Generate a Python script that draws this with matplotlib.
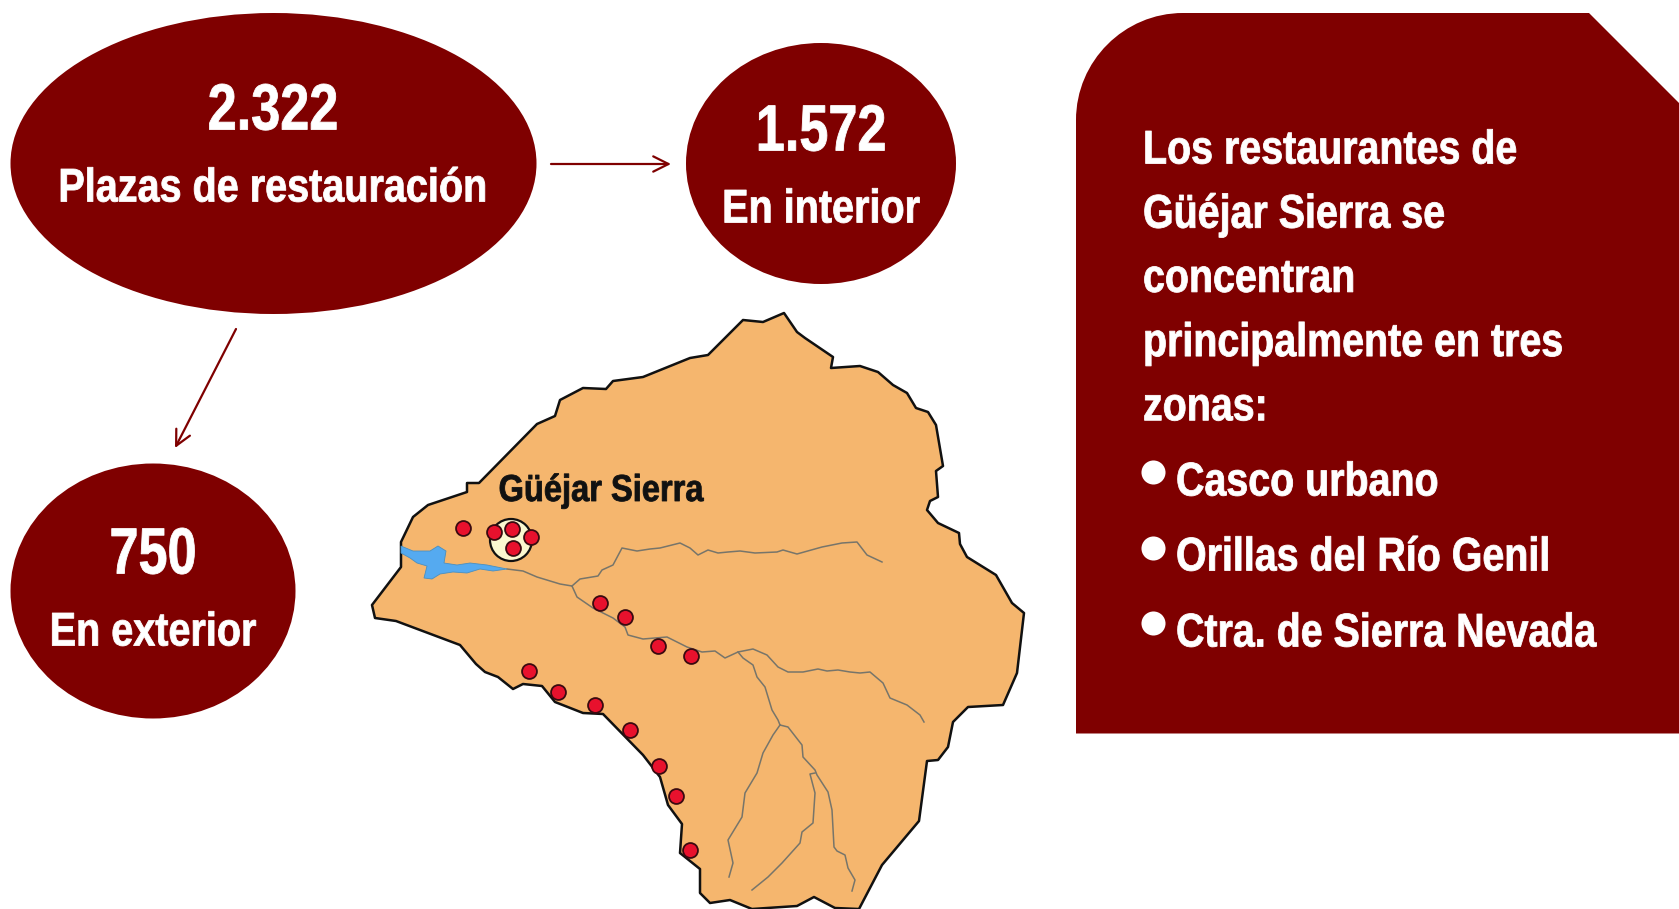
import matplotlib
matplotlib.use("Agg")
import matplotlib.pyplot as plt
from matplotlib.patches import Ellipse, Polygon, Circle, PathPatch
from matplotlib.path import Path
from matplotlib.patheffects import AbstractPathEffect
from matplotlib.transforms import Affine2D

plt.rcParams['font.family'] = ['Liberation Sans']
plt.rcParams['font.weight'] = 'bold'

RED = '#7f0000'
SAND = '#f5b66e'

# bubbles: number, label
big_num, big_label = '2.322', 'Plazas de restauración'
in_num, in_label = '1.572', 'En interior'
out_num, out_label = '750', 'En exterior'

panel_lines = ['Los restaurantes de', 'Güéjar Sierra se', 'concentran',
               'principalmente en tres', 'zonas:']
panel_items = ['Casco urbano', 'Orillas del Río Genil', 'Ctra. de Sierra Nevada']

# map outline, in pixels of the picture
outline = [(784, 313), (797, 332), (805, 338), (833, 357), (831, 368), (860, 366),
           (878, 372), (893, 385), (907, 393), (916, 408), (928, 412), (936, 425),
           (943, 466), (936, 471), (938, 497), (930, 501), (927, 510), (938, 523),
           (959, 533), (960, 544), (967, 557), (996, 575), (1012, 603), (1024, 613),
           (1017, 673), (1003, 705), (968, 707), (953, 722), (948, 747), (938, 760),
           (927, 761), (919, 821), (882, 865), (859, 909), (835, 908), (814, 897),
           (797, 906), (752, 909), (730, 900), (710, 903), (700, 893), (700, 869),
           (680, 853), (682, 824), (668, 805), (660, 777), (643, 755), (603, 714),
           (583, 713), (555, 702), (542, 686), (523, 684), (513, 689), (498, 677),
           (485, 672), (476, 664), (460, 645), (396, 621), (375, 618), (372, 605),
           (401, 567), (401, 542), (413, 517), (428, 505), (467, 492), (467, 483),
           (479, 483), (537, 424), (555, 416), (560, 400), (583, 388), (606, 389),
           (613, 381), (643, 377), (690, 358), (708, 355), (743, 320), (763, 322)]

reservoir = [(401, 546), (413, 551), (430, 551), (438, 546), (446, 551), (444, 563),
             (457, 565), (470, 563), (487, 565), (507, 569), (493, 571), (480, 569),
             (467, 573), (453, 572), (440, 574), (432, 579), (424, 578), (427, 566),
             (417, 563), (410, 558), (401, 553)]

river_main = [(507, 569), (523, 571), (537, 577), (560, 584), (572, 586), (577, 597),
              (593, 608), (613, 618), (625, 627), (628, 635), (643, 639), (655, 638),
              (667, 637), (687, 647), (702, 652), (715, 651), (725, 658), (738, 652),
              (753, 649), (767, 655), (778, 667), (788, 672), (803, 672), (818, 669),
              (827, 671), (838, 670), (850, 672), (860, 673), (870, 672), (883, 683),
              (890, 698), (907, 705), (920, 715), (924, 722)]
river_up = [(572, 586), (580, 579), (598, 576), (602, 570), (613, 565), (622, 548),
            (637, 551), (650, 549), (660, 548), (680, 543), (690, 548), (698, 555),
            (708, 550), (718, 553), (728, 552), (740, 551), (755, 553), (777, 552),
            (783, 550), (797, 554), (822, 547), (842, 543), (857, 542), (867, 555),
            (882, 562)]
river_branch = [(738, 652), (743, 658), (753, 665), (757, 677), (765, 687), (772, 710),
                (778, 720), (780, 725)]
river_left = [(780, 725), (773, 735), (763, 753), (757, 773), (745, 793), (742, 817),
              (728, 840), (733, 863), (729, 877)]
river_right = [(780, 725), (788, 727), (802, 745), (803, 757), (815, 770), (817, 775),
               (828, 792), (832, 810), (834, 847), (837, 851), (845, 855), (848, 868),
               (855, 880), (852, 891)]
river_mid = [(815, 773), (810, 774), (815, 793), (813, 823), (802, 832), (800, 843),
             (782, 863), (768, 877), (752, 890)]
rivers = [river_main, river_up, river_branch, river_left, river_right, river_mid]

town_x = [463, 600, 625, 658, 691, 529, 558, 595, 630, 659, 676, 690]
town_y = [528, 603, 617, 646, 656, 671, 692, 705, 730, 766, 796, 850]
centre_x = [494, 512, 531, 513]
centre_y = [532, 529, 537, 548]


class Narrow(AbstractPathEffect):
    # squeeze the glyphs sideways, no narrow bold font is installed
    def __init__(self, sx, centred=True):
        super().__init__()
        self.sx = sx
        self.centred = centred

    def draw_path(self, renderer, gc, tpath, affine, rgbFace=None):
        ext = tpath.get_extents()
        mid = (ext.x0 + ext.x1) / 2 if self.centred else 0
        squeeze = Affine2D().translate(-mid, 0).scale(self.sx, 1).translate(mid, 0)
        # a thin stroke makes up for the weight lost in squeezing
        gc0 = renderer.new_gc()
        gc0.copy_properties(gc)
        gc0.set_linewidth(0.6)
        gc0.set_foreground(rgbFace)
        renderer.draw_path(gc0, tpath, squeeze + affine, rgbFace)
        gc0.restore()


fig = plt.figure(figsize=(16.79, 9.09), dpi=100)
ax = fig.add_axes([0, 0, 1, 1])
ax.set_xlim(0, 1679)
ax.set_ylim(909, 0)
ax.axis('off')

# bubbles
ax.add_patch(Ellipse((273.5, 163.5), 526, 301, color=RED, lw=0))
ax.add_patch(Ellipse((821, 163.5), 270, 241, color=RED, lw=0))
ax.add_patch(Ellipse((153, 591), 285, 255, color=RED, lw=0))

narrow_num = [Narrow(0.80)]
narrow_label = [Narrow(0.838)]
narrow_l = [Narrow(0.834, centred=False)]
for x, y, num, label in [(273, 112.5, big_num, big_label),
                         (821, 133.5, in_num, in_label),
                         (153, 556.5, out_num, out_label)]:
    ax.text(x, y, num, color='white', fontsize=47, ha='center', va='center',
            path_effects=narrow_num)
    ax.text(x, y + 77, label, color='white', fontsize=34, ha='center', va='center',
            path_effects=narrow_label)

# arrows
arrow = dict(arrowstyle='->,head_length=1.1,head_width=0.55', color=RED, lw=1.6,
             shrinkA=0, shrinkB=0)
ax.annotate('', xy=(671, 164), xytext=(551, 164), arrowprops=arrow)
ax.annotate('', xy=(175, 448), xytext=(236, 329), arrowprops=arrow)

# map
ax.add_patch(Polygon(outline, closed=True, facecolor=SAND, edgecolor='#111111', lw=1.8,
                     joinstyle='round', zorder=2))
for r in rivers:
    ax.plot([p[0] for p in r], [p[1] for p in r], color='#77756a', lw=1.1, zorder=3)
ax.add_patch(Polygon(reservoir, closed=True, facecolor='#55aaf0', edgecolor='#4a8fc0',
                     lw=0.6, zorder=4))
ax.add_patch(Circle((511, 540), 21, facecolor='#fbf8d0', edgecolor='#111111', lw=1.6,
                    zorder=4))
ax.scatter(town_x + centre_x, town_y + centre_y, s=115, color='#e8112d',
           edgecolor='#3a0a10', lw=1.3, zorder=5)
ax.text(601, 491, 'Güéjar Sierra', color='#111111', fontsize=27, ha='center',
        va='center', zorder=6, path_effects=[Narrow(0.87)])

# text panel with rounded and cut corners
r = 107
k = r * 0.45
x0, x1, y0, y1 = 1076, 1679, 13, 733.5
verts = [(x0, y1), (x0, y0 + r), (x0, y0 + k), (x0 + k, y0), (x0 + r, y0), (1589, y0),
         (x1, 103), (x1, y1), (x0, y1)]
codes = [Path.MOVETO, Path.LINETO, Path.CURVE4, Path.CURVE4, Path.CURVE4, Path.LINETO,
         Path.LINETO, Path.LINETO, Path.CLOSEPOLY]
ax.add_patch(PathPatch(Path(verts, codes), facecolor=RED, lw=0, zorder=2))

for i, line in enumerate(panel_lines):
    ax.text(1143, 151.5 + i * 64.2, line, color='white', fontsize=34, ha='left',
            va='center', zorder=3, path_effects=narrow_l)
for y, line in zip([483.5, 558.5, 634.5], panel_items):
    ax.text(1176, y, line, color='white', fontsize=34, ha='left', va='center', zorder=3,
            path_effects=narrow_l)
ax.scatter([1153, 1153, 1153], [472, 548, 623], s=300, color='white', lw=0, zorder=3)

fig.savefig('out.png', dpi=100)
